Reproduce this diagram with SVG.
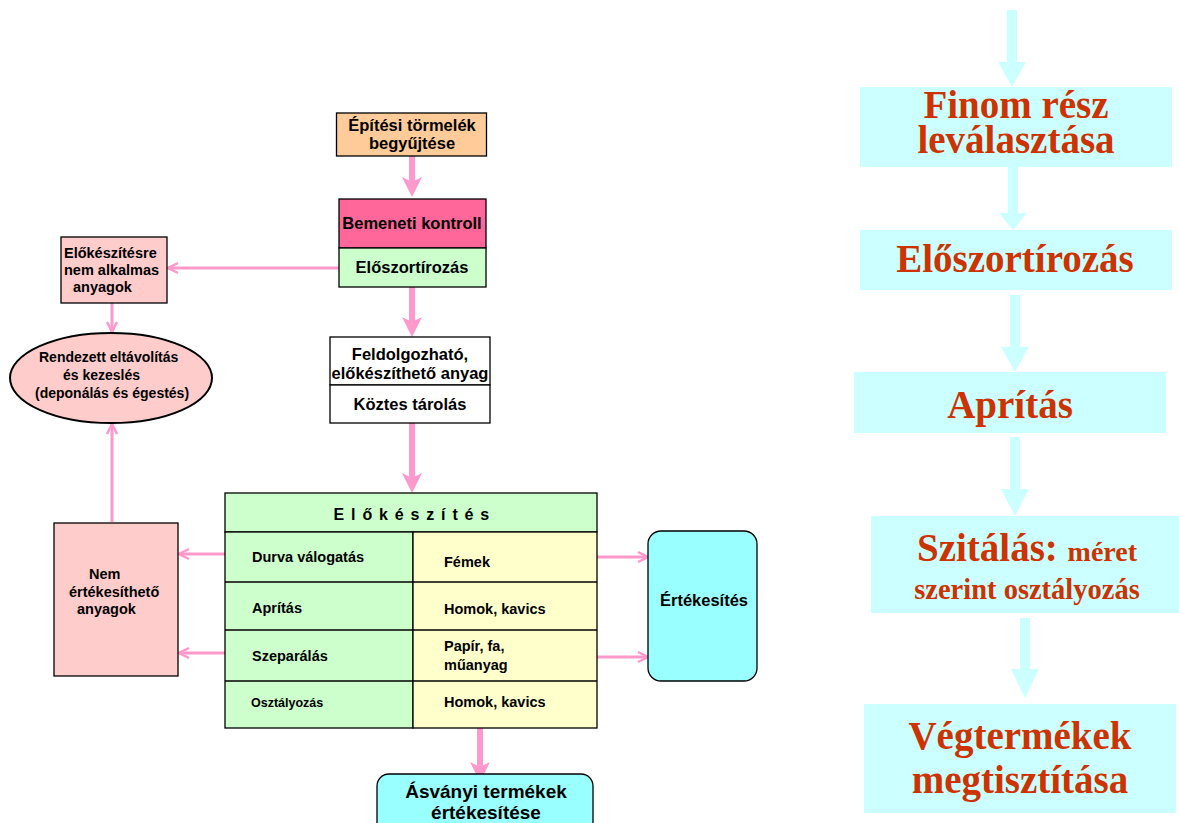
<svg xmlns="http://www.w3.org/2000/svg" width="1179" height="823" viewBox="0 0 1179 823">
  <defs>
    <style>
      .box { stroke: #000; stroke-width: 1.3; }
      .lbl { font-family: "Liberation Sans", Arial, sans-serif; font-weight: bold; font-size: 16.5px; fill: #000; }
      .mid { font-size: 14.5px; }
      .ell { font-size: 14px; }
      .tiny { font-size: 12.5px; }
      .head { font-size: 16px; letter-spacing: 1.2px; }
      .large { font-size: 19px; }
      .big { font-family: "Liberation Serif", "Times New Roman", serif; font-weight: bold; font-size: 39px; fill: #CC3300; text-anchor: middle; }
      .sub { font-size: 28px; }
      .sub2 { font-size: 28.5px; }
      .flow { fill: #CCFFFF; }
      .fat { stroke: #FF99CC; stroke-width: 6; fill: none; }
      .thin { stroke: #FF99CC; stroke-width: 3; fill: none; }
    </style>
    <marker id="headFat" viewBox="0 0 20 20" refX="10" refY="10" markerWidth="20" markerHeight="20" markerUnits="userSpaceOnUse" orient="auto">
      <path d="M0,0 L20,10 L0,20 L5,10 z" fill="#FF99CC"/>
    </marker>
    <marker id="headThin" viewBox="0 0 14 14" refX="12" refY="7" markerWidth="14" markerHeight="14" markerUnits="userSpaceOnUse" orient="auto">
      <path d="M2,2 L12,7 L2,12" fill="none" stroke="#FF99CC" stroke-width="2.5"/>
    </marker>
  </defs>

  <rect width="1179" height="823" fill="#FFFFFF"/>

  <!-- connectors of the left flowchart -->
  <g id="connectors">
    <line class="fat" x1="412" y1="156" x2="412" y2="187" marker-end="url(#headFat)"/>
    <line class="fat" x1="412" y1="287" x2="412" y2="327" marker-end="url(#headFat)"/>
    <line class="fat" x1="412" y1="423" x2="412" y2="483" marker-end="url(#headFat)"/>
    <line class="fat" x1="480" y1="728" x2="480" y2="772" marker-end="url(#headFat)"/>
    <line class="thin" x1="339" y1="268" x2="168" y2="268" marker-end="url(#headThin)"/>
    <line class="thin" x1="112" y1="303" x2="112" y2="332" marker-end="url(#headThin)"/>
    <line class="thin" x1="112" y1="522" x2="112" y2="424" marker-end="url(#headThin)"/>
    <line class="thin" x1="225" y1="554" x2="179" y2="554" marker-end="url(#headThin)"/>
    <line class="thin" x1="225" y1="653" x2="179" y2="653" marker-end="url(#headThin)"/>
    <line class="thin" x1="597" y1="557" x2="648" y2="557" marker-end="url(#headThin)"/>
    <line class="thin" x1="597" y1="657" x2="648" y2="657" marker-end="url(#headThin)"/>
  </g>

  <g id="begyujtes">
    <rect class="box" x="336.5" y="113" width="150" height="43" fill="#FFCC99"/>
    <text class="lbl" x="412" y="131" text-anchor="middle">Építési törmelék</text>
    <text class="lbl" x="412" y="149" text-anchor="middle">begyűjtése</text>
  </g>

  <g id="bemeneti-kontroll">
    <rect class="box" x="339" y="199" width="147" height="49" fill="#FF6699"/>
    <text class="lbl" x="412" y="229" text-anchor="middle">Bemeneti kontroll</text>
  </g>

  <g id="eloszortirozas">
    <rect class="box" x="339" y="248" width="147" height="39" fill="#CCFFCC"/>
    <text class="lbl" x="412" y="273" text-anchor="middle">Előszortírozás</text>
  </g>

  <g id="feldolgozhato">
    <rect class="box" x="330" y="337" width="160" height="48" fill="#FFFFFF"/>
    <text class="lbl" x="410" y="360" text-anchor="middle">Feldolgozható,</text>
    <text class="lbl" x="410" y="379" text-anchor="middle">előkészíthető anyag</text>
  </g>

  <g id="koztes-tarolas">
    <rect class="box" x="330" y="385" width="160" height="38" fill="#FFFFFF"/>
    <text class="lbl" x="410" y="410" text-anchor="middle">Köztes tárolás</text>
  </g>

  <g id="nem-alkalmas">
    <rect class="box" x="61" y="237" width="106" height="66" fill="#FFCCCC"/>
    <text class="lbl mid" x="64" y="258">Előkészítésre</text>
    <text class="lbl mid" x="64" y="275">nem alkalmas</text>
    <text class="lbl mid" x="73" y="292">anyagok</text>
  </g>

  <g id="eltavolitas">
    <ellipse cx="111" cy="378" rx="101" ry="45" fill="#FFCCCC" stroke="#000" stroke-width="2"/>
    <text class="lbl ell" x="39" y="362">Rendezett eltávolítás</text>
    <text class="lbl ell" x="63" y="380">és kezeslés</text>
    <text class="lbl ell" x="35" y="398">(deponálás és égestés)</text>
  </g>

  <g id="nem-ertekesitheto">
    <rect class="box" x="54" y="523" width="124" height="153" fill="#FFCCCC"/>
    <text class="lbl mid" x="89" y="579">Nem</text>
    <text class="lbl mid" x="69" y="597">értékesíthető</text>
    <text class="lbl mid" x="77" y="614">anyagok</text>
  </g>

  <g id="elokeszites">
    <rect class="box" x="225" y="493" width="372" height="39" fill="#CCFFCC"/>
    <rect class="box" x="225" y="532" width="188" height="196" fill="#CCFFCC"/>
    <rect class="box" x="413" y="532" width="184" height="196" fill="#FFFFCC"/>
    <g stroke="#000" stroke-width="1.3">
      <line x1="225" y1="582" x2="597" y2="582"/>
      <line x1="225" y1="630" x2="597" y2="630"/>
      <line x1="225" y1="681" x2="597" y2="681"/>
    </g>
    <text class="lbl head" x="412" y="520" text-anchor="middle">E l ő k é s z í t é s</text>
    <text class="lbl mid" x="252" y="562">Durva válogatás</text>
    <text class="lbl mid" x="444" y="567">Fémek</text>
    <text class="lbl mid" x="252" y="613">Aprítás</text>
    <text class="lbl mid" x="444" y="614">Homok, kavics</text>
    <text class="lbl mid" x="252" y="661">Szeparálás</text>
    <text class="lbl mid" x="444" y="651">Papír, fa,</text>
    <text class="lbl mid" x="444" y="670">műanyag</text>
    <text class="lbl tiny" x="251" y="707">Osztályozás</text>
    <text class="lbl mid" x="444" y="707">Homok, kavics</text>
  </g>

  <g id="ertekesites">
    <rect class="box" x="648" y="531" width="109" height="150" rx="13" fill="#99FFFF"/>
    <text class="lbl" x="704" y="606" text-anchor="middle">Értékesítés</text>
  </g>

  <g id="asvanyi-termekek">
    <rect class="box" x="377" y="774" width="216" height="60" rx="12" fill="#99FFFF"/>
    <text class="lbl large" x="486" y="798" text-anchor="middle">Ásványi termékek</text>
    <text class="lbl large" x="486" y="819" text-anchor="middle">értékesítése</text>
  </g>

  <!-- process column on the right -->
  <g id="process-arrows" class="flow">
    <rect x="1007" y="10" width="10" height="53"/>
    <polygon points="998,62 1026,62 1012,87"/>
    <rect x="1008" y="167" width="10" height="47"/>
    <polygon points="999,213 1027,213 1013,230"/>
    <rect x="1010" y="295" width="10" height="53"/>
    <polygon points="1001,347 1029,347 1015,372"/>
    <rect x="1010" y="437" width="10" height="53"/>
    <polygon points="1001,489 1029,489 1015,516"/>
    <rect x="1020" y="618" width="10" height="52"/>
    <polygon points="1011,669 1039,669 1025,698"/>
  </g>

  <g id="finom-resz">
    <rect class="flow" x="860" y="87" width="312" height="80"/>
    <text class="big" x="1016" y="118">Finom rész</text>
    <text class="big" x="1016" y="153">leválasztása</text>
  </g>

  <g id="eloszortirozas-2">
    <rect class="flow" x="860" y="230" width="312" height="60"/>
    <text class="big" x="1015" y="272">Előszortírozás</text>
  </g>

  <g id="apritas">
    <rect class="flow" x="854" y="372" width="312" height="61"/>
    <text class="big" x="1010" y="418">Aprítás</text>
  </g>

  <g id="szitalas">
    <rect class="flow" x="871" y="516" width="308" height="97"/>
    <text class="big" x="1027" y="561">Szitálás: <tspan class="sub">méret</tspan></text>
    <text class="big sub2" x="1027" y="599">szerint osztályozás</text>
  </g>

  <g id="vegtermekek">
    <rect class="flow" x="864" y="704" width="312" height="109"/>
    <text class="big" x="1020" y="749">Végtermékek</text>
    <text class="big" x="1020" y="793">megtisztítása</text>
  </g>
</svg>
